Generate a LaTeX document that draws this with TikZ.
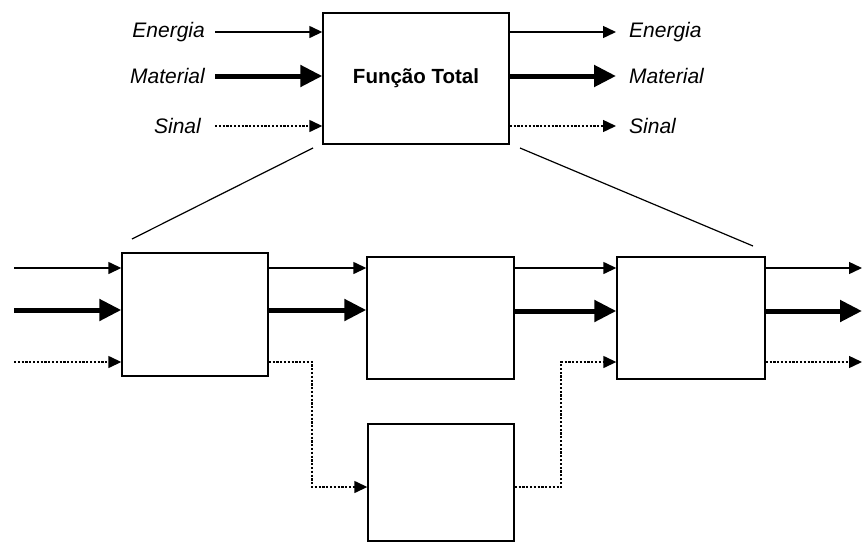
\documentclass[tikz,border=0pt]{standalone}
\usepackage{fontspec}
\setmainfont{Liberation Sans}
\usetikzlibrary{arrows.meta}
\begin{document}
\begin{tikzpicture}[x=1pt,y=-1pt,
  blk/.style={draw, line width=1.4pt, inner sep=0pt},
  thin/.style={line width=1.4pt, -{Triangle[length=13pt,width=12pt]}},
  thick/.style={line width=5pt, -{Triangle[length=22pt,width=21pt]}},
  sig/.style={line width=1.4pt, dash pattern=on 2.2pt off 1.6pt, -{Triangle[length=13pt,width=12pt]}},
  lbl/.style={font=\fontsize{21}{25}\selectfont\itshape, inner sep=0pt},
  link/.style={line width=1.2pt}]
\useasboundingbox (0,0) rectangle (862,544);
% top box
\node[blk, minimum width=186pt, minimum height=131pt, font=\fontsize{20.5}{24}\selectfont\bfseries] (T) at (416,78.5) {Função Total};
% labels
\node[lbl, anchor=east] (le) at (205,32) {Energia};
\node[lbl, anchor=east] (lm) at (205,76) {Material};
\node[lbl, anchor=east] (ls) at (201,126) {Sinal};
\node[lbl, anchor=west] (re) at (629,32) {Energia};
\node[lbl, anchor=west] (rm) at (629,76) {Material};
\node[lbl, anchor=west] (rs) at (629,126) {Sinal};
\coordinate (ie) at (215,32);
\coordinate (im) at (215,76);
\coordinate (is) at (215,126);
\coordinate (oe) at (616,32);
\coordinate (om) at (616,76);
\coordinate (os) at (616,126);
\draw[thin] (ie) -- (ie -| T.west);
\draw[thick] (im) -- (im -| T.west);
\draw[sig] (is) -- (is -| T.west);
\draw[thin] (oe -| T.east) -- (oe);
\draw[thick] (om -| T.east) -- (om);
\draw[sig] (os -| T.east) -- (os);
% bottom boxes
\node[blk, minimum width=146pt, minimum height=123pt] (A) at (195,314.5) {};
\node[blk, minimum width=147pt, minimum height=122pt] (B) at (440.5,318) {};
\node[blk, minimum width=148pt, minimum height=122pt] (C) at (691,318) {};
\node[blk, minimum width=146pt, minimum height=117pt] (D) at (441,482.5) {};
% expansion lines
\coordinate (d1a) at (313,148);
\coordinate (d1b) at (132,239);
\coordinate (d2a) at (520,148);
\coordinate (d2b) at (753,246);
\draw[link] (d1a) -- (d1b);
\draw[link] (d2a) -- (d2b);
% inputs
\coordinate (ae) at (14,268);
\coordinate (am) at (14,310);
\coordinate (as) at (14,362);
\draw[thin] (ae) -- (ae -| A.west);
\draw[thick] (am) -- (am -| A.west);
\draw[sig] (as) -- (as -| A.west);
% A -> B
\draw[thin] (A.east |- 0,268) -- (B.west |- 0,268);
\draw[thick] (A.east |- 0,310) -- (B.west |- 0,310);
% B -> C
\draw[thin] (B.east |- 0,268) -- (C.west |- 0,268);
\draw[thick] (B.east |- 0,311) -- (C.west |- 0,311);
% outputs
\coordinate (ce) at (862,268);
\coordinate (cm) at (862,311);
\coordinate (cs) at (862,362);
\draw[thin] (C.east |- ce) -- (ce);
\draw[thick] (C.east |- cm) -- (cm);
\draw[sig] (C.east |- cs) -- (cs);
% signal path via D
\draw[sig] (A.east |- 0,362) -- (312,362) -- (312,487) -- (D.west |- 0,487);
\draw[sig] (D.east |- 0,487) -- (561,487) -- (561,362) -- (C.west |- 0,362);
\end{tikzpicture}
\end{document}
